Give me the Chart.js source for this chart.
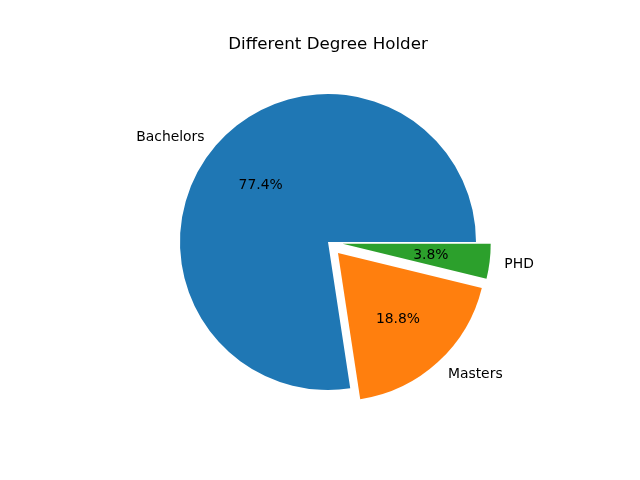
<!DOCTYPE html>
<html>
<head>
<meta charset="utf-8">
<script src="https://cdn.jsdelivr.net/npm/chart.js@4/dist/chart.umd.min.js"></script>
<style>
    html, body { margin: 0; padding: 0; background: #ffffff; }
    #wrap { width: 640px; height: 480px; }
</style>
</head>
<body>
<div id="wrap"><canvas id="degreeChart" width="640" height="480"></canvas></div>
<script>
"use strict";

// Data
var labels = ["Bachelors", "Masters", "PHD"];
var shares = [77.4, 18.8, 3.8];
var explode = [0, 0.1, 0.1];
var colors = ["#1f77b4", "#ff7f0e", "#2ca02c"];

var fontFamily = "'DejaVu Sans', sans-serif";

// matplotlib goes counter-clockwise from 3 o'clock, Chart.js goes clockwise,
// so hand the slices over in reverse order starting at 3 o'clock
var order = [];
for (let i = labels.length - 1; i >= 0; i--) {
    order.push(i);
}

// Draw each slice pushed out along its middle angle, then the texts
var piePlugin = {
    id: "pieLabels",
    beforeDatasetDraw: function(chart, args) {
        var ctx = chart.ctx;
        var meta = args.meta;
        meta.data.forEach(function(arc, j) {
            var i = order[j];
            var mid = (arc.startAngle + arc.endAngle) / 2;
            var d = explode[i] * arc.outerRadius;
            ctx.save();
            ctx.translate(Math.cos(mid) * d, Math.sin(mid) * d);
            arc.draw(ctx);
            ctx.restore();
        });
        return false;
    },
    afterDatasetsDraw: function(chart) {
        var ctx = chart.ctx;
        var meta = chart.getDatasetMeta(0);
        ctx.save();
        ctx.fillStyle = "#000000";
        ctx.font = "13.9px " + fontFamily;
        ctx.textBaseline = "middle";
        meta.data.forEach(function(arc, j) {
            var i = order[j];
            var mid = (arc.startAngle + arc.endAngle) / 2;
            var r = arc.outerRadius;
            var cx = arc.x + Math.cos(mid) * explode[i] * r;
            var cy = arc.y + Math.sin(mid) * explode[i] * r + 1;

            // outer label
            var lx = cx + Math.cos(mid) * r * 1.1;
            var ly = cy + Math.sin(mid) * r * 1.1;
            ctx.textAlign = Math.cos(mid) < 0 ? "right" : "left";
            ctx.fillText(labels[i], lx, ly);

            // percent label
            var px = cx + Math.cos(mid) * r * 0.6;
            var py = cy + Math.sin(mid) * r * 0.6;
            ctx.textAlign = "center";
            ctx.fillText(shares[i].toFixed(1) + "%", px, py);
        });
        ctx.restore();
    }
};

var config = {
    type: "pie",
    data: {
        labels: order.map(function(i) { return labels[i]; }),
        datasets: [{
            data: order.map(function(i) { return shares[i]; }),
            backgroundColor: order.map(function(i) { return colors[i]; }),
            borderWidth: 0
        }]
    },
    options: {
        responsive: false,
        animation: false,
        rotation: 90,
        radius: 148,
        layout: {
            padding: { left: 16, right: 0, top: 0, bottom: 59 }
        },
        plugins: {
            legend: { display: false },
            tooltip: { enabled: false },
            title: {
                display: true,
                text: "Different Degree Holder",
                color: "#000000",
                font: { family: fontFamily, size: 16.7, weight: "normal", lineHeight: 1.2 },
                padding: { top: 35, bottom: 8 }
            }
        }
    },
    plugins: [piePlugin]
};

var ctx = document.getElementById("degreeChart").getContext("2d");
var chart = new Chart(ctx, config);
</script>
</body>
</html>
